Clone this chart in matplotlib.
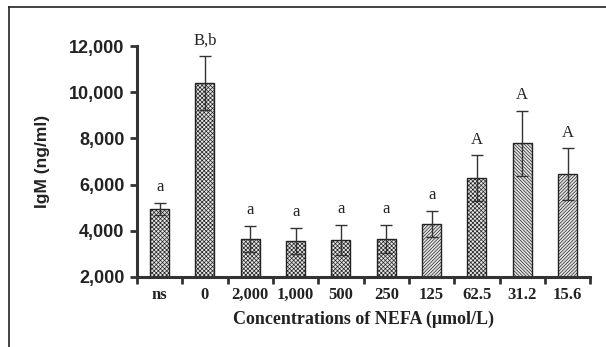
import matplotlib.pyplot as plt
import matplotlib as mpl
from matplotlib.lines import Line2D

categories = ["ns", "0", "2,000", "1,000", "500", "250", "125", "62.5", "31.2", "15.6"]
igm = [4950, 10400, 3650, 3550, 3600, 3650, 4300, 6280, 7800, 6460]
err = [250, 1170, 570, 570, 660, 610, 570, 990, 1410, 1120]
letters = ["a", "B,b", "a", "a", "a", "a", "a", "A", "A", "A"]
hatches = ["xxxxxxxx", "xxxxxxxx", "xxxxxxxx", "xxxxxxxx", "xxxxxxxx", "xxxxxxxx",
           "//////////", "xxxxxxxx", "\\\\\\\\\\\\\\\\\\\\", "//////////"]

mpl.rcParams['hatch.linewidth'] = 0.5
mpl.rcParams['hatch.color'] = '#888888'

fig = plt.figure(figsize=(6.06, 3.47), dpi=100)
ax = fig.add_axes([0.226, 0.202, 0.748, 0.665])

x = range(len(categories))
for i in x:
    ax.bar(i, igm[i] - 2000, bottom=2000, width=0.42, color='#e6e6e6',
           edgecolor='#222222', linewidth=1, hatch=hatches[i], zorder=2)
ax.errorbar(list(x), igm, yerr=err, fmt='none', ecolor='#333333',
            elinewidth=1, capsize=4, capthick=1, zorder=3)
for i in x:
    ax.text(i, igm[i] + err[i] + 330, letters[i], ha='center', va='bottom',
            family='Liberation Serif', fontsize=12, color='#222222', clip_on=False)

ax.set_xlim(-0.5, 9.5)
ax.set_ylim(2000, 12000)
ax.set_yticks(range(2000, 12001, 2000))
ax.set_yticklabels([f"{v:,}" for v in range(2000, 12001, 2000)],
                   family='Liberation Sans', fontweight='bold', fontsize=13, color='#222222')
ax.set_xticks([i + 0.5 for i in range(-1, 10)], minor=False)
ax.set_xticklabels([])
ax.set_xticks(list(x), minor=True)
ax.set_xticklabels(categories, minor=True, family='Liberation Serif',
                   fontweight='bold', fontsize=12, color='#222222')
ax.tick_params(axis='x', which='major', direction='out', length=5, width=2, color='#333333')
ax.tick_params(axis='x', which='minor', length=0, pad=7)
ax.tick_params(axis='y', direction='out', length=5, width=2, color='#333333', pad=4)

for s in ['top', 'right']:
    ax.spines[s].set_visible(False)
for s in ['left', 'bottom']:
    ax.spines[s].set_linewidth(2.2)
    ax.spines[s].set_color('#333333')

ax.set_ylabel("IgM (ng/ml)", family='Liberation Sans', fontweight='bold',
              fontsize=12.5, color='#222222', labelpad=14)
ax.set_xlabel("Concentrations of NEFA (\u03bcmol/L)", family='Liberation Serif',
              fontweight='bold', fontsize=13, color='#222222', labelpad=6)

fig.add_artist(Line2D([9 / 606, 1], [1 - 7 / 347, 1 - 7 / 347], color='#222222', lw=1.2))
fig.add_artist(Line2D([9 / 606, 9 / 606], [0, 1 - 7 / 347], color='#222222', lw=1.2))

fig.savefig("out.png", dpi=100)
